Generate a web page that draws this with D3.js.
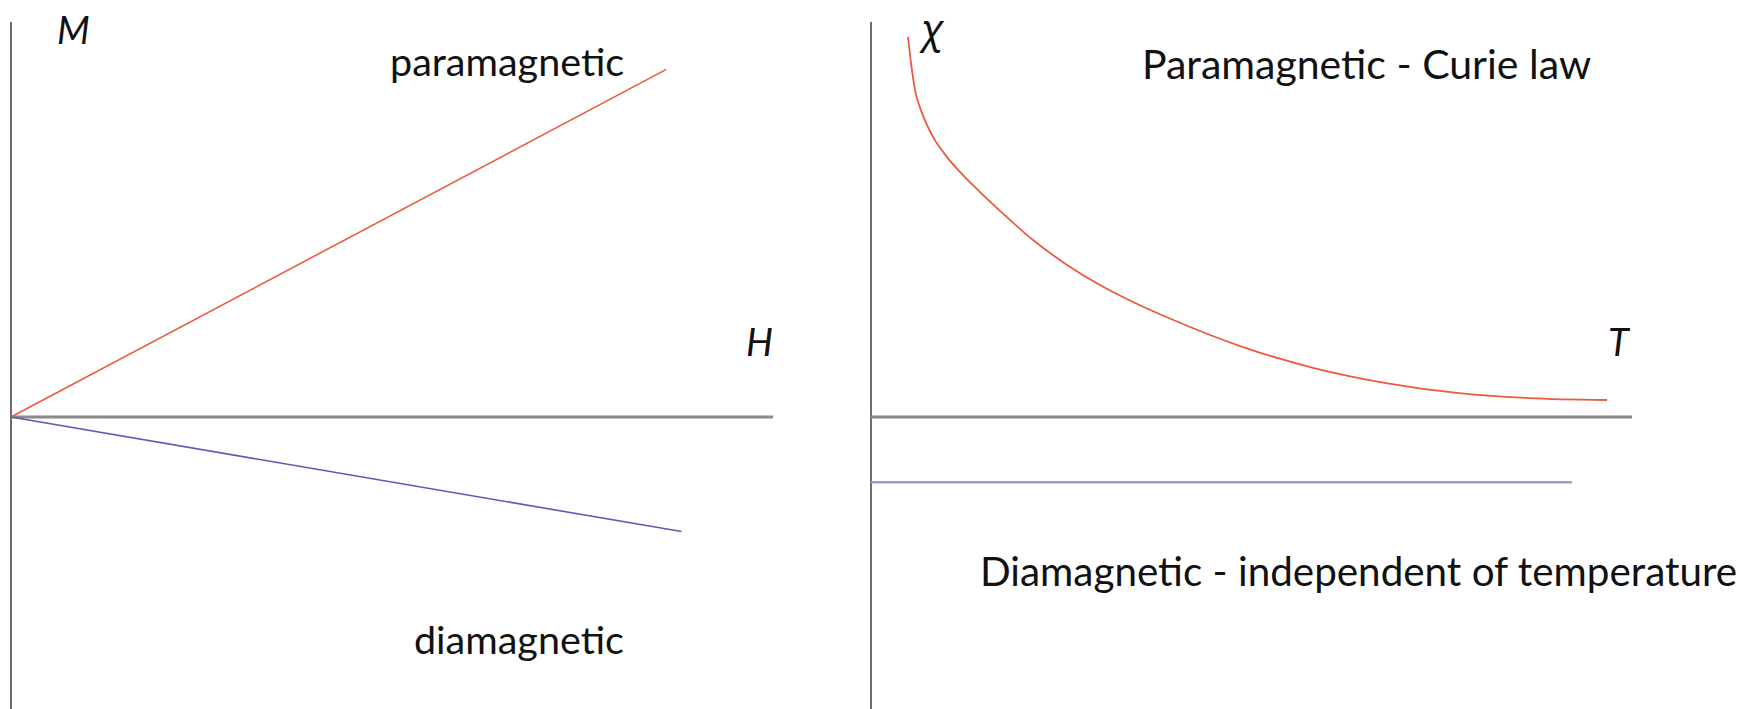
<!DOCTYPE html>
<html>
<head>
<meta charset="utf-8">
<script src="https://cdn.jsdelivr.net/npm/d3@7"></script>
<style>
  html, body { margin: 0; padding: 0; background: #fff; }
  svg { display: block; }
  text { font-family: Lato, "Noto Sans", "DejaVu Sans", sans-serif; fill: #111; }
</style>
</head>
<body>
<svg id="chart" width="1756" height="709"></svg>
<script>
// ---------- data ----------
// Left panel: magnetisation M vs applied field H
const paraH = [0, 0.86];
const paraM = [0, 0.88];
const diaH  = [0, 0.88];
const diaM  = [0, -0.29];

// Right panel: susceptibility chi vs temperature T
const curieT   = [0.0486, 0.0526, 0.0578, 0.0670, 0.0815, 0.0999, 0.1196, 0.1393, 0.1695, 0.2129, 0.2576, 0.3009, 0.3443, 0.3942, 0.4888, 0.5821, 0.6767, 0.7700, 0.8646, 0.9671];
const curieChi = [0.962, 0.896, 0.828, 0.770, 0.709, 0.658, 0.615, 0.577, 0.522, 0.448, 0.385, 0.334, 0.291, 0.248, 0.177, 0.124, 0.086, 0.061, 0.048, 0.043];
const diaT     = [0, 0.921];
const diaChi   = [-0.165, -0.165];

const leftLabels  = { y: "M", x: "H", top: "paramagnetic", bottom: "diamagnetic" };
const rightLabels = { y: "χ", x: "T", top: "Paramagnetic - Curie law", bottom: "Diamagnetic - independent of temperature" };

// ---------- drawing ----------
const svg = d3.select("#chart");
const RED = "#ec5a3e", BLUE = "#5a5ab8", BLUE2 = "#9c9cd0", AXIS = "#8a8a8a", VAXIS = "#6e6e6e";

const yScale = d3.scaleLinear().domain([-1, 1]).range([812, 22]);

// Left panel
const xL = d3.scaleLinear().domain([0, 1]).range([11, 773]);
svg.append("line").attr("x1", xL(0)).attr("x2", xL(0))
  .attr("y1", yScale(1)).attr("y2", 709)
  .attr("stroke", VAXIS).attr("stroke-width", 2);
svg.append("line").attr("x1", xL(0)).attr("x2", xL(1))
  .attr("y1", yScale(0)).attr("y2", yScale(0))
  .attr("stroke", AXIS).attr("stroke-width", 3);

const lineL = d3.line().x(d => xL(d[0])).y(d => yScale(d[1]));
svg.append("path").datum(d3.zip(paraH, paraM)).attr("d", lineL)
  .attr("fill", "none").attr("stroke", RED).attr("stroke-width", 1.6);
svg.append("path").datum(d3.zip(diaH, diaM)).attr("d", lineL)
  .attr("fill", "none").attr("stroke", BLUE).attr("stroke-width", 1.6);

svg.append("text").attr("x", 57).attr("y", 44).attr("font-size", 38).attr("font-style", "italic").text(leftLabels.y);
svg.append("text").attr("x", 746).attr("y", 356).attr("font-size", 38).attr("font-style", "italic").text(leftLabels.x);
svg.append("text").attr("x", 390).attr("y", 76).attr("font-size", 39.5).text(leftLabels.top);
svg.append("text").attr("x", 414).attr("y", 654).attr("font-size", 39.5).text(leftLabels.bottom);

// Right panel
const xR = d3.scaleLinear().domain([0, 1]).range([871, 1632]);
svg.append("line").attr("x1", xR(0)).attr("x2", xR(0))
  .attr("y1", yScale(1)).attr("y2", 709)
  .attr("stroke", VAXIS).attr("stroke-width", 2);
svg.append("line").attr("x1", xR(0)).attr("x2", xR(1))
  .attr("y1", yScale(0)).attr("y2", yScale(0))
  .attr("stroke", AXIS).attr("stroke-width", 3);

svg.append("path").datum(d3.zip(curieT, curieChi))
  .attr("d", d3.line().x(d => xR(d[0])).y(d => yScale(d[1])).curve(d3.curveMonotoneX))
  .attr("fill", "none").attr("stroke", RED).attr("stroke-width", 1.8);
svg.append("path").datum(d3.zip(diaT, diaChi))
  .attr("d", d3.line().x(d => xR(d[0])).y(d => yScale(d[1])))
  .attr("fill", "none").attr("stroke", BLUE2).attr("stroke-width", 2.5);

svg.append("text").attr("x", 921).attr("y", 43).attr("font-size", 40).attr("font-style", "italic")
  .style("font-family", "'Noto Sans', 'DejaVu Sans', sans-serif").text(rightLabels.y);
svg.append("text").attr("x", 1608).attr("y", 356).attr("font-size", 38).attr("font-style", "italic").text(rightLabels.x);
svg.append("text").attr("x", 1142).attr("y", 79).attr("font-size", 41).text(rightLabels.top);
svg.append("text").attr("x", 980).attr("y", 586).attr("font-size", 40.4).text(rightLabels.bottom);
</script>
</body>
</html>
